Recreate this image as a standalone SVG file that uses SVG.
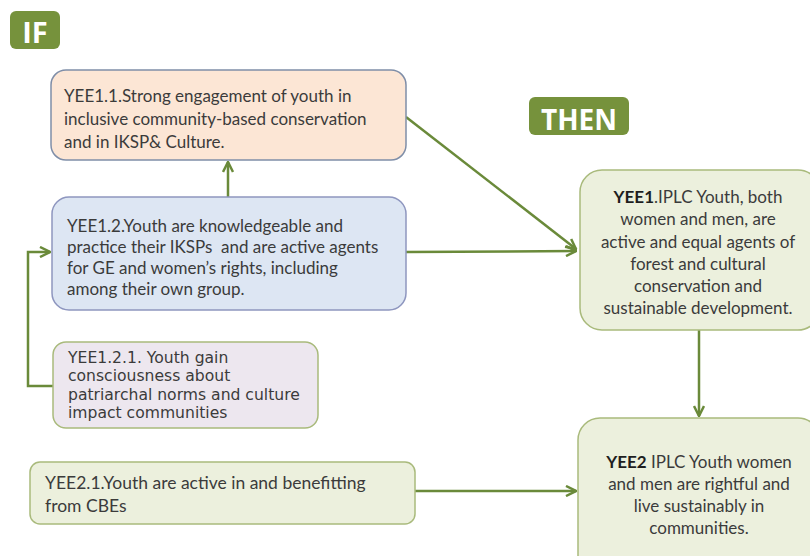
<svg xmlns="http://www.w3.org/2000/svg" width="810" height="556" viewBox="0 0 810 556">
  <style>
    .t { font-family: Lato, "Open Sans", "Liberation Sans", sans-serif; font-size: 17px; fill: #3b3b3b; }
    .v { font-family: "DejaVu Sans", Verdana, sans-serif; font-size: 15.6px; fill: #3b3b3b; }
    .c { text-anchor: middle; }
    .badge { fill: #76923c; }
    .bt { font-family: "Open Sans", "Liberation Sans", sans-serif; font-weight: bold; fill: #ffffff; font-size: 28px; text-anchor: middle; }
    .conn { stroke: #6a8a3a; stroke-width: 2.5; fill: none; marker-end: url(#ah); }
    .gbox { fill: #ecf0dd; stroke: #a9ba7c; stroke-width: 1.5; }
  </style>
  <defs>
    <marker id="ah" viewBox="0 0 10 10" refX="9" refY="5" markerWidth="5" markerHeight="5" orient="auto" markerUnits="strokeWidth">
      <path d="M1,1 L9,5 L1,9" fill="none" stroke="#6a8a3a" stroke-width="2"/>
    </marker>
  </defs>
  <rect width="810" height="556" fill="#ffffff"/>

  <g id="badge-if">
    <rect class="badge" x="10" y="11" width="50" height="38" rx="6"/>
    <text class="bt" x="35" y="43" style="font-size:29px">IF</text>
  </g>
  <g id="badge-then">
    <rect class="badge" x="529" y="97" width="100" height="38" rx="6"/>
    <text class="bt" x="579" y="130">THEN</text>
  </g>

  <g id="connectors">
    <path class="conn" d="M228,197 L228,162"/>
    <path class="conn" d="M406,117 L576,249"/>
    <path class="conn" d="M406,252 L576,251"/>
    <path class="conn" d="M53,386 L28,386 L28,252 L50,252"/>
    <path class="conn" d="M699,330 L699,416"/>
    <path class="conn" d="M415,491 L576,491"/>
  </g>

  <g id="yee1-1">
    <rect x="51" y="70" width="355" height="90" rx="15" fill="#fce6d5" stroke="#7f8ea8" stroke-width="1.5"/>
    <text class="t" x="64" y="102">YEE1.1.Strong engagement of youth in</text>
    <text class="t" x="64" y="125">inclusive community-based conservation</text>
    <text class="t" x="64" y="148">and in IKSP&amp; Culture.</text>
  </g>

  <g id="yee1-2">
    <rect x="52" y="197" width="354" height="113" rx="17" fill="#dde6f3" stroke="#8e96bf" stroke-width="1.5"/>
    <text class="t" x="67" y="232">YEE1.2.Youth are knowledgeable and</text>
    <text class="t" x="67" y="253">practice their IKSPs&#160; and are active agents</text>
    <text class="t" x="67" y="274">for GE and women’s rights, including</text>
    <text class="t" x="67" y="295">among their own group.</text>
  </g>

  <g id="yee1-2-1">
    <rect x="53" y="342" width="265" height="86" rx="13" fill="#ede7ef" stroke="#a9ba7c" stroke-width="1.5"/>
    <text class="v" x="68" y="363">YEE1.2.1. Youth gain</text>
    <text class="v" x="68" y="381">consciousness about</text>
    <text class="v" x="68" y="400">patriarchal norms and culture</text>
    <text class="v" x="68" y="418">impact communities</text>
  </g>

  <g id="yee2-1">
    <rect class="gbox" x="30" y="462" width="385" height="62" rx="10"/>
    <text class="t" x="45" y="489" style="font-size:17.5px">YEE2.1.Youth are active in and benefitting</text>
    <text class="t" x="45" y="512" style="font-size:17.5px">from CBEs</text>
  </g>

  <g id="yee1">
    <rect class="gbox" x="580" y="170" width="240" height="160" rx="22"/>
    <text class="t c" x="698" y="203"><tspan font-weight="bold" fill="#1e1e1e">YEE1</tspan>.IPLC Youth, both</text>
    <text class="t c" x="698" y="225">women and men, are</text>
    <text class="t c" x="698" y="248">active and equal agents of</text>
    <text class="t c" x="698" y="270">forest and cultural</text>
    <text class="t c" x="698" y="292">conservation and</text>
    <text class="t c" x="698" y="314">sustainable development.</text>
  </g>

  <g id="yee2">
    <rect class="gbox" x="578" y="418" width="242" height="160" rx="22"/>
    <text class="t c" x="699" y="468"><tspan font-weight="bold" fill="#1e1e1e">YEE2</tspan> IPLC Youth women</text>
    <text class="t c" x="699" y="490">and men are rightful and</text>
    <text class="t c" x="699" y="512">live sustainably in</text>
    <text class="t c" x="699" y="534">communities.</text>
  </g>
</svg>
